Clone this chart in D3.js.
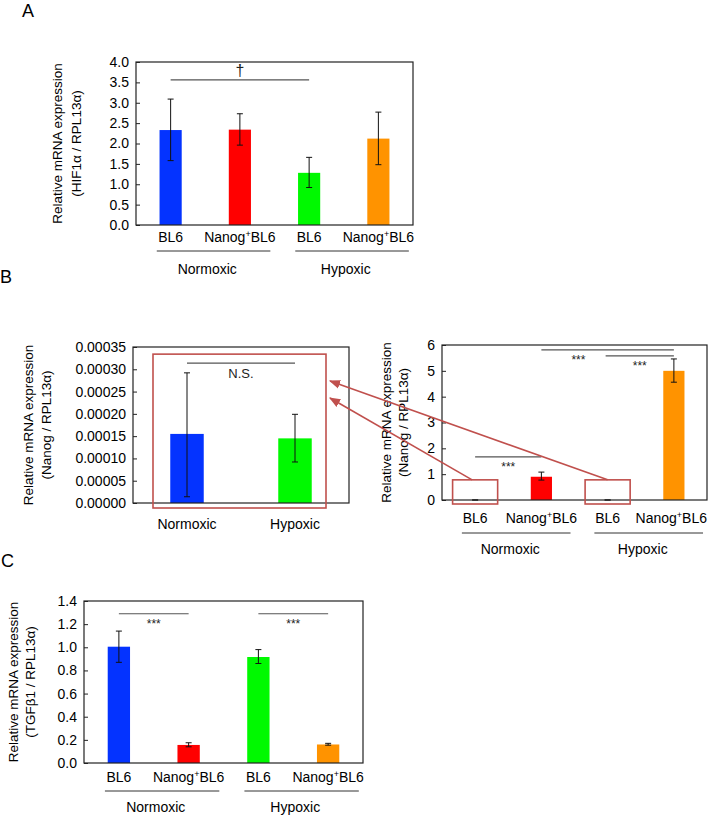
<!DOCTYPE html>
<html><head><meta charset="utf-8">
<script src="https://cdn.jsdelivr.net/npm/d3@7"></script>
<style>
body{margin:0;background:#fff;}
svg{font-family:Arial,"Liberation Sans",sans-serif;}
</style></head>
<body>
<svg id="chart" width="708" height="815"></svg>
<script>
// ---------- data ----------
const categories = ["BL6", "Nanog+BL6", "BL6", "Nanog+BL6"];
const groups = ["Normoxic", "Hypoxic"];
const barColors = ["#0433ff", "#ff0000", "#00f900", "#ff9300"];

const hifMean = [2.33, 2.34, 1.28, 2.12];
const hifLow  = [1.58, 1.96, 0.92, 1.48];
const hifHigh = [3.09, 2.73, 1.66, 2.77];
const hifTicks = [0, 0.5, 1, 1.5, 2, 2.5, 3, 3.5, 4];

const nanogSmallCats = ["Normoxic", "Hypoxic"];
const nanogSmallColors = ["#0433ff", "#00f900"];
const nanogSmallMean = [0.000155, 0.000145];
const nanogSmallLow  = [0.000014, 0.000092];
const nanogSmallHigh = [0.000292, 0.000199];
const nanogSmallTicks = [0, 0.00005, 0.0001, 0.00015, 0.0002, 0.00025, 0.0003, 0.00035];

const nanogMean = [0.000155, 0.90, 0.000145, 5.00];
const nanogLow  = [0.000014, 0.77, 0.000092, 4.56];
const nanogHigh = [0.000292, 1.08, 0.000199, 5.46];
const nanogTicks = [0, 1, 2, 3, 4, 5, 6];

const tgfMean = [1.005, 0.156, 0.916, 0.160];
const tgfLow  = [0.870, 0.140, 0.860, 0.154];
const tgfHigh = [1.140, 0.175, 0.980, 0.170];
const tgfTicks = [0, 0.2, 0.4, 0.6, 0.8, 1.0, 1.2, 1.4];

const sigA = [{from: 0, to: 2, y: 3.56, label: "†", at: 0.5}];
const sigBL = [{from: 0, to: 1, y: 0.000314, label: "N.S.", at: 0.5}];
const sigBR = [
  {from: 1, to: 3, y: 5.81, label: "***", at: 0.28},
  {from: 2, to: 3, y: 5.58, label: "***", at: 0.5},
  {from: 0, to: 1, y: 1.67, label: "***", at: 0.5}
];
const sigC = [
  {from: 0, to: 1, y: 1.29, label: "***", at: 0.5},
  {from: 2, to: 3, y: 1.29, label: "***", at: 0.5}
];

// ---------- drawing ----------
const svg = d3.select("#chart");
const FONT = 14;
const W = 708;

function catLabel(sel, txt) {
  if (txt.indexOf("+") >= 0) {
    const parts = txt.split("+");
    sel.append("tspan").text(parts[0]);
    sel.append("tspan").text("+").attr("font-size", 9).attr("dy", -5);
    sel.append("tspan").text(parts[1]).attr("dy", 5);
  } else sel.text(txt);
}

function panel(o) {
  const g = svg.append("g");
  const x = d3.scaleBand().domain(d3.range(o.mean.length))
    .range([o.left, o.right]).paddingInner(o.pad).paddingOuter(o.pad / 2);
  const y = d3.scaleLinear().domain([0, o.max]).range([o.bottom, o.top]);
  const cx = i => x(i) + x.bandwidth() / 2;

  // bars
  g.selectAll("rect.bar").data(o.mean).join("rect")
    .attr("class", "bar")
    .attr("x", (d, i) => x(i)).attr("width", x.bandwidth())
    .attr("y", d => y(d)).attr("height", d => y(0) - y(d))
    .attr("fill", (d, i) => o.colors[i]);

  // error bars
  const eb = g.selectAll("g.eb").data(o.mean.map((d, i) => i)).join("g").attr("class", "eb")
    .attr("stroke", "#111").attr("stroke-width", 1);
  eb.append("line").attr("x1", cx).attr("x2", cx)
    .attr("y1", i => y(o.low[i])).attr("y2", i => y(o.high[i]));
  eb.append("line").attr("x1", i => cx(i) - 3).attr("x2", i => cx(i) + 3)
    .attr("y1", i => y(o.low[i])).attr("y2", i => y(o.low[i]));
  eb.append("line").attr("x1", i => cx(i) - 3).attr("x2", i => cx(i) + 3)
    .attr("y1", i => y(o.high[i])).attr("y2", i => y(o.high[i]));

  // frame
  g.append("rect").attr("x", o.left).attr("y", o.top)
    .attr("width", o.right - o.left).attr("height", o.bottom - o.top)
    .attr("fill", "none").attr("stroke", "#222").attr("stroke-width", 1.2);

  // y axis
  const ax = g.append("g").attr("transform", `translate(${o.left},0)`)
    .call(d3.axisLeft(y).tickValues(o.ticks).tickFormat(d3.format(o.fmt)).tickSize(-4).tickPadding(7));
  ax.select(".domain").remove();
  ax.selectAll(".tick line").attr("stroke", "#222");
  ax.selectAll("text").attr("font-size", FONT).attr("fill", "#000")
    .attr("font-family", "Arial, 'Liberation Sans', sans-serif");

  // y title
  const tt = g.append("g").attr("font-size", 13.5).attr("text-anchor", "middle");
  o.title.forEach((t, k) => {
    tt.append("text").attr("transform", `translate(${o.titleX[k]},${(o.top + o.bottom) / 2}) rotate(-90)`)
      .attr("dominant-baseline", "central").text(t);
  });

  // category labels
  o.cats.forEach((c, i) => {
    const t = g.append("text").attr("x", cx(i)).attr("y", o.catY)
      .attr("text-anchor", "middle").attr("font-size", FONT);
    catLabel(t, c);
    const w = t.node().getComputedTextLength();
    if (cx(i) + w / 2 > W - 1) t.attr("x", W - 1 - w / 2);
  });

  // group lines & labels
  if (o.groups) {
    const st = x.step();
    o.groups.forEach((gr, k) => {
      const a = cx(2 * k) - 0.2 * st, b = Math.min(cx(2 * k + 1) + 0.44 * st, W - 1);
      g.append("line").attr("x1", a).attr("x2", b).attr("y1", o.groupLineY).attr("y2", o.groupLineY)
        .attr("stroke", "#333").attr("stroke-width", 1);
      g.append("text").attr("x", (cx(2 * k) + cx(2 * k + 1)) / 2 + 2).attr("y", o.groupY)
        .attr("text-anchor", "middle").attr("font-size", FONT).text(gr);
    });
  }

  // significance
  (o.sig || []).forEach(s => {
    const yy = y(s.y);
    const x1 = cx(s.from) - (s.from === 2 && s.to === 3 && o.right > 700 ? 2 : 0), x2 = cx(s.to);
    g.append("line").attr("x1", x1).attr("x2", x2).attr("y1", yy).attr("y2", yy)
      .attr("stroke", "#555").attr("stroke-width", 1.2);
    let ty, fs;
    if (s.label === "***") { ty = yy + 14; fs = 12; }
    else if (s.label === "†") { ty = yy - 4; fs = 16; }
    else { ty = yy + 15; fs = 13; }
    g.append("text").attr("x", x1 + (x2 - x1) * s.at).attr("y", ty)
      .attr("text-anchor", "middle").attr("font-size", fs)
      .attr("fill", "#222").text(s.label);
  });
  return {x, y, cx, g};
}

// Panel letters
svg.append("text").attr("x", 22).attr("y", 17).attr("font-size", 18).text("A");
svg.append("text").attr("x", 0).attr("y", 283).attr("font-size", 18).text("B");
svg.append("text").attr("x", 1).attr("y", 567).attr("font-size", 18).text("C");

// Panel A
panel({
  mean: hifMean, low: hifLow, high: hifHigh, colors: barColors, cats: categories, groups: groups,
  left: 136, right: 413, top: 62, bottom: 225, max: 4, ticks: hifTicks, fmt: ".1f", pad: 0.68,
  title: ["Relative mRNA expression", "(HIF1α / RPL13α)"], titleX: [57, 76],
  catY: 242, groupLineY: 251, groupY: 274, sig: sigA
});

// Panel B left
const bl = panel({
  mean: nanogSmallMean, low: nanogSmallLow, high: nanogSmallHigh, colors: nanogSmallColors, cats: nanogSmallCats,
  left: 133, right: 349, top: 347, bottom: 503, max: 0.00035, ticks: nanogSmallTicks, fmt: ".5f", pad: 0.69,
  title: ["Relative mRNA expression", "(Nanog / RPL13α)"], titleX: [28, 46],
  catY: 529, sig: sigBL
});

// Panel B right
const br = panel({
  mean: nanogMean, low: nanogLow, high: nanogHigh, colors: barColors, cats: categories, groups: groups,
  left: 442, right: 707, top: 345, bottom: 500, max: 6, ticks: nanogTicks, fmt: "d", pad: 0.68,
  title: ["Relative mRNA expression", "(Nanog / RPL13α)"], titleX: [386, 403],
  catY: 523, groupLineY: 533, groupY: 554, sig: sigBR
});

// Panel C
panel({
  mean: tgfMean, low: tgfLow, high: tgfHigh, colors: barColors, cats: categories, groups: groups,
  left: 84, right: 363, top: 601, bottom: 763, max: 1.4, ticks: tgfTicks, fmt: ".1f", pad: 0.68,
  title: ["Relative mRNA expression", "(TGFβ1 / RPL13α)"], titleX: [13, 30],
  catY: 782, groupLineY: 791, groupY: 812, sig: sigC
});

// Zoom boxes and arrows (red)
const RED = "#c0504d";
const defs = svg.append("defs");
defs.append("marker").attr("id", "ah").attr("viewBox", "0 0 10 10").attr("refX", 9).attr("refY", 5)
  .attr("markerWidth", 7).attr("markerHeight", 7).attr("orient", "auto-start-reverse")
  .append("path").attr("d", "M0,1 L10,5 L0,9 z").attr("fill", RED);

// left big box
const lbx1 = 153, lbx2 = 326;
svg.append("rect").attr("x", lbx1).attr("y", bl.y(0.000334)).attr("width", lbx2 - lbx1)
  .attr("height", bl.y(0) + 5 - bl.y(0.000334)).attr("fill", "none").attr("stroke", RED).attr("stroke-width", 1.6);

// small boxes around near-zero bars on the right panel
const boxes = [0, 2].map(i => {
  const c = br.cx(i), w = br.x.step() * 0.34;
  const top = br.y(0.78), bot = br.y(0) + 4;
  svg.append("rect").attr("x", c - w).attr("y", top).attr("width", 2 * w).attr("height", bot - top)
    .attr("fill", "none").attr("stroke", RED).attr("stroke-width", 1.6);
  return {c, top};
});
// arrows
svg.append("line").attr("x1", boxes[0].c - 3).attr("y1", boxes[0].top).attr("x2", 330).attr("y2", 398)
  .attr("stroke", RED).attr("stroke-width", 1.6).attr("marker-end", "url(#ah)");
svg.append("line").attr("x1", boxes[1].c).attr("y1", boxes[1].top).attr("x2", 330).attr("y2", 381)
  .attr("stroke", RED).attr("stroke-width", 1.6).attr("marker-end", "url(#ah)");
</script>
</body></html>
